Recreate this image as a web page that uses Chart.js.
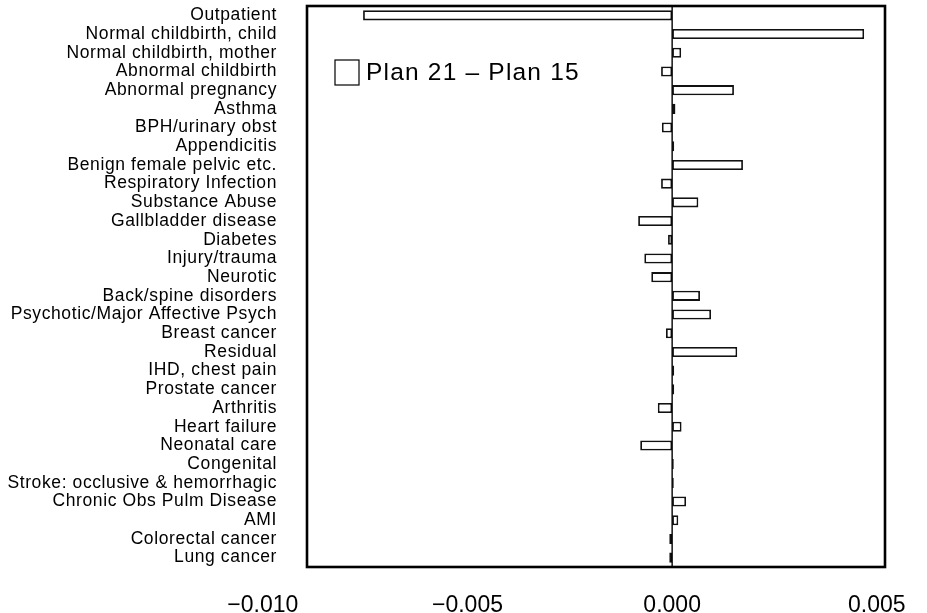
<!DOCTYPE html>
<html>
<head>
<meta charset="utf-8">
<script src="https://cdn.jsdelivr.net/npm/chart.js@4.4.1/dist/chart.umd.min.js"></script>
<style>
  html, body { margin: 0; padding: 0; background: #fff; }
</style>
</head>
<body>
<canvas id="chart" width="927" height="613"></canvas>
<script>
// Per-diagnosis difference in expected cost share, Plan 21 minus Plan 15
const categories = [
  "Outpatient",
  "Normal childbirth, child",
  "Normal childbirth, mother",
  "Abnormal childbirth",
  "Abnormal pregnancy",
  "Asthma",
  "BPH/urinary obst",
  "Appendicitis",
  "Benign female pelvic etc.",
  "Respiratory Infection",
  "Substance Abuse",
  "Gallbladder disease",
  "Diabetes",
  "Injury/trauma",
  "Neurotic",
  "Back/spine disorders",
  "Psychotic/Major Affective Psych",
  "Breast cancer",
  "Residual",
  "IHD, chest pain",
  "Prostate cancer",
  "Arthritis",
  "Heart failure",
  "Neonatal care",
  "Congenital",
  "Stroke: occlusive & hemorrhagic",
  "Chronic Obs Pulm Disease",
  "AMI",
  "Colorectal cancer",
  "Lung cancer",
]

const planDiff = [
  -0.00755, 0.00469, 0.00022, -0.00027, 0.00151,
  0.00008, -0.00025, 0.00005, 0.00173, -0.00027,
  0.00064, -0.00083, -0.0001, -0.00068, -0.00051,
  0.00068, 0.00095, -0.00015, 0.00159, 0.00005,
  0.00005, -0.00035, 0.00023, -0.00078, 0.00004,
  0.00004, 0.00034, 0.00015, -0.00007, -0.00007,
]

const xTicks = [-0.01, -0.005, 0.0, 0.005]
const seriesLabel = "Plan 21 \u2013 Plan 15"

// visible range of the value axis (tick labels sit partly outside it)
const xMin = -0.00892
const xMax = 0.0052

const fmtTick = (v) => (v < 0 ? "\u2212" : "") + Math.abs(v).toFixed(3)

const framePlugin = {
  id: "frame",
  beforeDraw(chart) {
    // category labels are drawn a little wide
    chart.ctx.letterSpacing = "0.6px"
  },
  beforeDatasetsDraw(chart) {
    chart.ctx.letterSpacing = "0px"
  },
  afterDatasetsDraw(chart) {
    const { ctx, chartArea: a, scales } = chart
    const xs = scales.x
    ctx.save()
    ctx.strokeStyle = "#000"

    // zero reference line
    const x0 = xs.getPixelForValue(0)
    ctx.lineWidth = 1.4
    ctx.beginPath()
    ctx.moveTo(x0, a.top)
    ctx.lineTo(x0, a.bottom)
    ctx.stroke()

    // box around the plot
    ctx.lineWidth = 2.6
    ctx.strokeRect(a.left, a.top, a.right - a.left, a.bottom - a.top)

    // value axis labels
    ctx.fillStyle = "#000"
    ctx.letterSpacing = "0px"
    ctx.font = "23px 'Liberation Sans', Arial, sans-serif"
    ctx.textAlign = "center"
    ctx.textBaseline = "middle"
    xTicks.forEach((v) => ctx.fillText(fmtTick(v), xs.getPixelForValue(v), a.bottom + 39))

    // legend key
    const bx = a.left + 28
    const by = a.top + 54
    ctx.lineWidth = 1.2
    ctx.fillStyle = "#fff"
    ctx.fillRect(bx, by, 24, 25)
    ctx.strokeRect(bx, by, 24, 25)
    ctx.fillStyle = "#000"
    ctx.textAlign = "left"
    ctx.letterSpacing = "1.2px"
    ctx.font = "24.5px 'Liberation Sans', Arial, sans-serif"
    ctx.fillText(chart.data.datasets[0].label, bx + 31, by + 13)
    ctx.restore()
  },
}

new Chart(document.getElementById("chart"), {
  type: "bar",
  data: {
    labels: categories,
    datasets: [
      {
        label: seriesLabel,
        data: planDiff,
        backgroundColor: "#fff",
        borderColor: "#111",
        borderWidth: 1.8,
        borderSkipped: false,
        barPercentage: 0.54,
        categoryPercentage: 1,
      },
    ],
  },
  options: {
    indexAxis: "y",
    responsive: false,
    animation: false,
    layout: {
      padding: { left: 0, top: 6, right: 42, bottom: 46 },
    },
    scales: {
      x: {
        type: "linear",
        min: xMin,
        max: xMax,
        display: false,
      },
      y: {
        grid: { display: false, drawTicks: false },
        border: { display: false },
        ticks: {
          color: "#000",
          padding: 30,
          autoSkip: false,
          font: { family: "'Liberation Sans', Arial, sans-serif", size: 17.5 },
        },
        afterFit(scale) {
          scale.width = 307
          // keep label padding from pushing the plot box down
          scale.paddingTop = 0
          scale.paddingBottom = 0
        },
      },
    },
    plugins: {
      legend: { display: false },
      tooltip: { enabled: false },
    },
  },
  plugins: [framePlugin],
})
</script>
</body>
</html>
